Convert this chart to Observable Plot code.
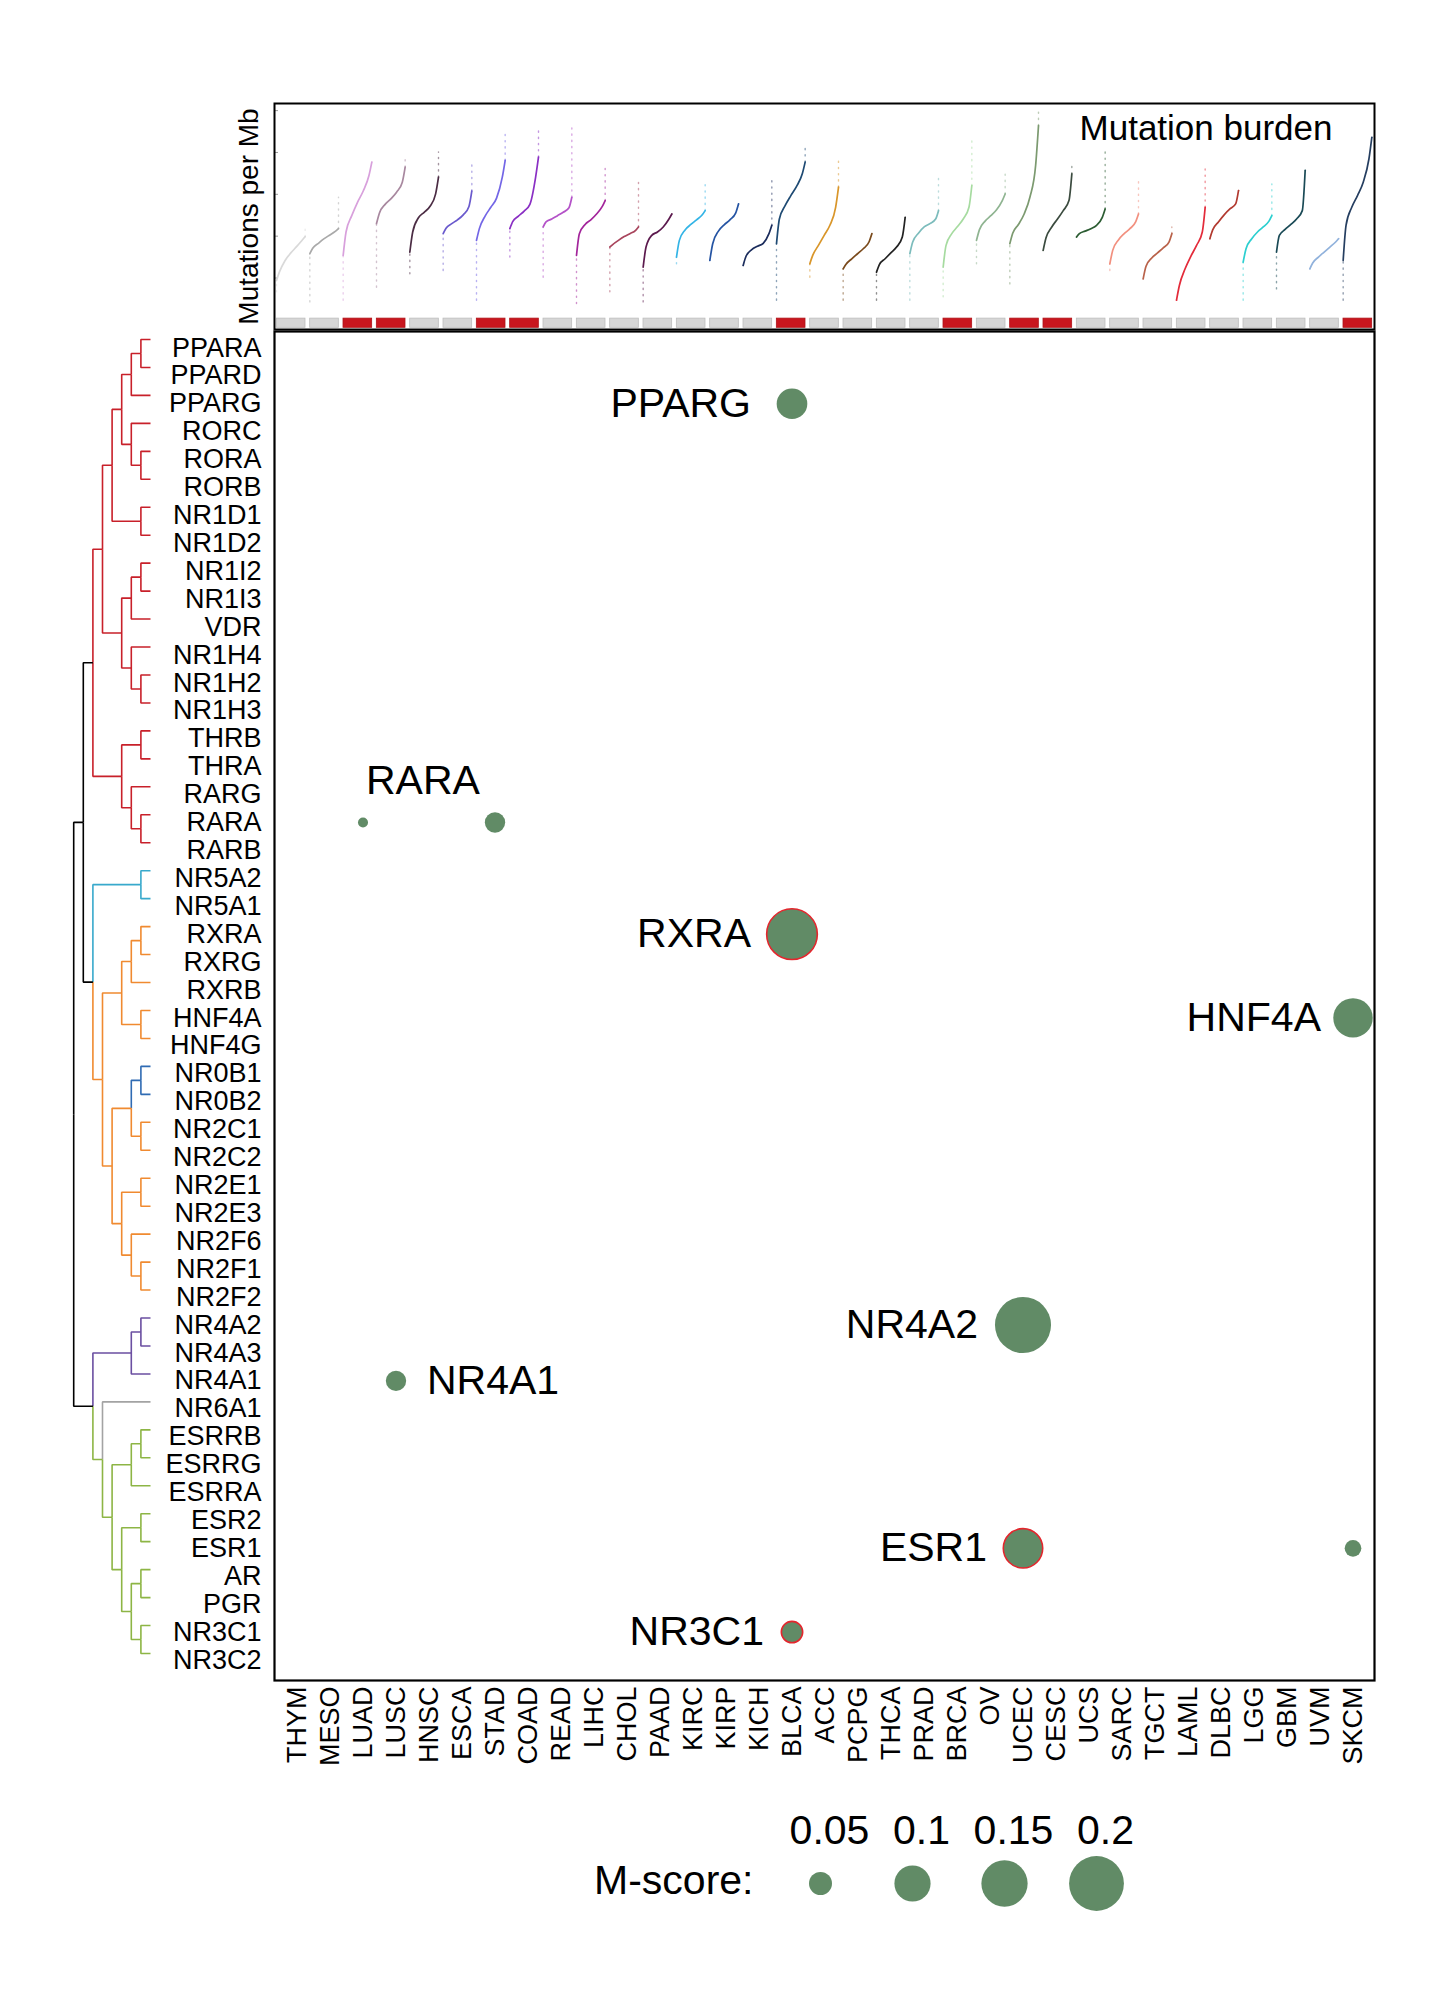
<!DOCTYPE html>
<html><head><meta charset="utf-8">
<script src="https://cdn.jsdelivr.net/npm/d3@7"></script>
<script src="https://cdn.jsdelivr.net/npm/@observablehq/plot@0.6"></script>
<style>
html,body{margin:0;padding:0;background:#fff;}
#wrap{position:relative;width:1452px;height:1995px;overflow:hidden;}
</style></head><body><div id="wrap"></div>
<script>
// ---------------- DATA ----------------
const cancers = ["THYM","MESO","LUAD","LUSC","HNSC","ESCA","STAD","COAD","READ","LIHC","CHOL","PAAD","KIRC","KIRP","KICH","BLCA","ACC","PCPG","THCA","PRAD","BRCA","OV","UCEC","CESC","UCS","SARC","TGCT","LAML","DLBC","LGG","GBM","UVM","SKCM"];
const highlightedCancers = ["LUAD","LUSC","STAD","COAD","BLCA","BRCA","UCEC","CESC","SKCM"];
const cancerColors = ["#d9d9d9","#a9a9a9","#d8a0dc","#a8889f","#4b2c44","#6a5acd","#7366e6","#8a2fc4","#b452c8","#a3259b","#a8445c","#5c1a4e","#33b4e6","#2554a3","#1b2c5c","#1e4a73","#d9962a","#7a4a1c","#222222","#7cbcbc","#a6dba0","#8fb491","#7c9a70","#3b4b3f","#2b5c32","#f2907f","#b9624a","#e32b3a","#b23a30","#2ccfd0","#1a4a56","#91b2dc","#253e60"];
// log10 mutations per Mb at sample-rank fractions 0, .1, .3, .5, .7, .9, 1
const burdenFractions = [0, 0.1, 0.3, 0.5, 0.7, 0.9, 1];
const burdenLog10 = [
  [-1.06,-0.86,-0.58,-0.40,-0.25,-0.09,-0.01],
  [-0.42,-0.29,-0.17,-0.06,0.03,0.12,0.18],
  [-0.46,0.10,0.49,0.81,1.08,1.45,1.77],
  [0.30,0.55,0.76,0.89,1.05,1.29,1.65],
  [-0.38,0.10,0.44,0.57,0.71,1.01,1.41],
  [0.06,0.19,0.30,0.39,0.51,0.71,1.08],
  [-0.10,0.18,0.48,0.69,0.91,1.41,1.81],
  [0.18,0.35,0.48,0.60,0.76,1.41,1.89],
  [0.22,0.34,0.41,0.49,0.57,0.68,0.93],
  [-0.46,0.06,0.28,0.39,0.53,0.71,0.85],
  [-0.26,-0.20,-0.10,-0.01,0.06,0.14,0.22],
  [-0.74,-0.26,0.02,0.10,0.22,0.41,0.53],
  [-0.50,-0.10,0.15,0.28,0.39,0.51,0.61],
  [-0.58,-0.18,0.12,0.27,0.39,0.55,0.77],
  [-0.70,-0.48,-0.32,-0.24,-0.17,0.06,0.26],
  [-0.18,0.41,0.73,0.97,1.19,1.49,1.77],
  [-0.66,-0.46,-0.22,0.02,0.26,0.69,1.17],
  [-0.78,-0.67,-0.54,-0.42,-0.30,-0.14,0.06],
  [-0.86,-0.68,-0.54,-0.40,-0.26,-0.02,0.45],
  [-0.42,-0.14,0.07,0.22,0.30,0.41,0.61],
  [-0.74,-0.22,0.06,0.23,0.41,0.69,1.21],
  [-0.10,0.15,0.36,0.49,0.63,0.85,1.01],
  [-0.18,0.07,0.28,0.53,0.93,1.69,2.64],
  [-0.34,-0.04,0.22,0.41,0.61,0.85,1.49],
  [-0.02,0.06,0.12,0.18,0.26,0.45,0.65],
  [-0.66,-0.34,-0.09,0.06,0.18,0.34,0.53],
  [-1.02,-0.72,-0.52,-0.40,-0.28,-0.14,0.06],
  [-1.53,-1.18,-0.78,-0.48,-0.22,0.10,0.69],
  [-0.06,0.15,0.34,0.51,0.65,0.77,1.09],
  [-0.62,-0.30,-0.06,0.10,0.22,0.36,0.49],
  [-0.38,0.02,0.16,0.28,0.41,0.61,1.57],
  [-0.78,-0.64,-0.50,-0.38,-0.26,-0.14,-0.06],
  [-0.58,0.26,0.69,0.97,1.29,1.85,2.36]
];
const burdenTailLow = [-1.33,-1.57,-1.53,-1.22,-0.90,-0.82,-1.53,-0.50,-0.98,-1.61,-1.33,-1.57,-0.66,-0.58,-0.70,-1.53,-0.98,-1.53,-1.53,-1.53,-1.45,-0.66,-1.14,-0.34,-0.02,-0.82,-1.02,-1.53,-0.06,-1.53,-1.26,-0.78,-1.53];
const burdenTailHigh = [0.22,0.93,1.77,1.85,2.01,1.77,2.48,2.52,2.64,1.65,1.29,0.53,1.33,0.77,1.37,2.12,1.81,0.06,0.45,1.41,2.36,1.57,3.00,1.73,2.12,1.41,0.22,1.61,1.09,1.25,1.57,-0.06,2.36];
const burdenTicks = [-1, 0, 1, 2, 3];

const genes = ["PPARA","PPARD","PPARG","RORC","RORA","RORB","NR1D1","NR1D2","NR1I2","NR1I3","VDR","NR1H4","NR1H2","NR1H3","THRB","THRA","RARG","RARA","RARB","NR5A2","NR5A1","RXRA","RXRG","RXRB","HNF4A","HNF4G","NR0B1","NR0B2","NR2C1","NR2C2","NR2E1","NR2E3","NR2F6","NR2F1","NR2F2","NR4A2","NR4A3","NR4A1","NR6A1","ESRRB","ESRRG","ESRRA","ESR2","ESR1","AR","PGR","NR3C1","NR3C2"];
const geneFamily = ["NR1","NR1","NR1","NR1","NR1","NR1","NR1","NR1","NR1","NR1","NR1","NR1","NR1","NR1","NR1","NR1","NR1","NR1","NR1","NR5","NR5","NR2","NR2","NR2","NR2","NR2","NR0","NR0","NR2","NR2","NR2","NR2","NR2","NR2","NR2","NR4","NR4","NR4","NR6","NR3","NR3","NR3","NR3","NR3","NR3","NR3","NR3","NR3"];
// dendrogram merges (node k+1 = mergeA[k] + mergeB[k])
const mergeA = ["PPARA","n1","RORA","RORC","n2","NR1D1","n5","NR1I2","n8","NR1H2","NR1H4","n9","n7","THRB","RARA","RARG","n14","n13","NR5A2","RXRA","n20","HNF4A","n21","NR0B1","NR2C1","n24","NR2E1","NR2F1","NR2F6","n27","n26","n23","n19","n18","NR4A2","n35","ESRRB","n37","ESR2","AR","NR3C1","n40","n39","n38","NR6A1","n36","n34"];
const mergeB = ["PPARD","PPARG","RORB","n3","n4","NR1D2","n6","NR1I3","VDR","NR1H3","n10","n11","n12","THRA","RARB","n15","n16","n17","NR5A1","RXRG","RXRB","HNF4G","n22","NR0B2","NR2C2","n25","NR2E3","NR2F2","n28","n29","n30","n31","n32","n33","NR4A3","NR4A1","ESRRG","ESRRA","ESR1","PGR","NR3C2","n41","n42","n43","n44","n45","n46"];
const mergeHeight = [1,2,1,2,3,1,4,1,2,1,2,3,5,1,1,2,3,6,1,1,2,1,3,1,1,2,1,1,2,3,4,5,6,7,1,2,1,2,1,1,1,2,3,4,5,6,8];
const mergeFamily = ["NR1","NR1","NR1","NR1","NR1","NR1","NR1","NR1","NR1","NR1","NR1","NR1","NR1","NR1","NR1","NR1","NR1","NR1","NR5","NR2","NR2","NR2","NR2","NR0","NR2","NR2","NR2","NR2","NR2","NR2","NR2","NR2","mixed","top","NR4","NR4","NR3","NR3","NR3","NR3","NR3","NR3","NR3","NR3","NR3","mixed","top"];

// M-score hits
const hitCancer = ["BLCA","LUAD","STAD","BLCA","SKCM","UCEC","LUSC","UCEC","SKCM","BLCA"];
const hitGene = ["PPARG","RARA","RARA","RXRA","HNF4A","NR4A2","NR4A1","ESR1","ESR1","NR3C1"];
const hitScore = [0.077,0.0175,0.042,0.175,0.115,0.208,0.042,0.115,0.032,0.045];
const hitSignificant = [false,false,false,true,false,false,false,true,false,true];
const labelGene = ["PPARG","RARA","RXRA","HNF4A","NR4A2","NR4A1","ESR1","NR3C1"];
const labelCancer = ["BLCA","LUAD","BLCA","SKCM","UCEC","LUSC","UCEC","BLCA"];
const legendValues = [0.05, 0.1, 0.15, 0.2];

// ---------------- STYLE / LAYOUT ----------------
const FONT = "'Liberation Sans', Arial, Helvetica, sans-serif";
const famColor = {NR1:"#c8202a", NR5:"#38a9cc", NR2:"#f08a30", NR0:"#2f6bb3", NR4:"#6b4fa1", NR6:"#a3a3a3", NR3:"#8db545", mixed:"#000", top:"#000"};
const dotFill = "#618b66";
const sigStroke = "#e3262d";
const rScale = {type: "sqrt", domain: [0.05, 0.2], range: [11.5, 27.4]};
const wrap = document.getElementById("wrap");
function place(svg, left, top) {
  svg.style.position = "absolute";
  svg.style.left = left + "px";
  svg.style.top = top + "px";
  wrap.appendChild(svg);
}

// ---------- top panel: mutation burden ----------
const curveRows = [], tailRows = [];
cancers.forEach((c, i) => {
  const x0 = i + 0.06, w = 0.86;
  burdenFractions.forEach((f, j) => curveRows.push({cancer: c, x: x0 + f * w, y: burdenLog10[i][j], color: cancerColors[i]}));
  tailRows.push({id: c + "lo", x: x0, y: burdenTailLow[i], color: cancerColors[i]});
  tailRows.push({id: c + "lo", x: x0, y: burdenLog10[i][0], color: cancerColors[i]});
  tailRows.push({id: c + "hi", x: x0 + w, y: burdenLog10[i][6], color: cancerColors[i]});
  tailRows.push({id: c + "hi", x: x0 + w, y: burdenTailHigh[i], color: cancerColors[i]});
});
const topPlot = Plot.plot({
  width: 1452, height: 332,
  marginLeft: 274, marginRight: 78, marginTop: 103, marginBottom: 3,
  style: {background: "transparent", fontFamily: FONT, color: "#000"},
  x: {type: "linear", domain: [0, cancers.length], axis: null},
  y: {type: "linear", domain: [-2.23, 3.17], axis: null},
  color: {type: "identity"},
  marks: [
    Plot.ruleY(burdenTicks, {x1: 0, x2: 0.12, stroke: "#999", strokeWidth: 1}),
    Plot.rect(cancers, {x1: (d, i) => i + 0.07, x2: (d, i) => i + 0.93, y1: -2.19, y2: -1.97,
      fill: d => highlightedCancers.includes(d) ? "#c8161e" : "#d6d6d6",
      stroke: d => highlightedCancers.includes(d) ? "#b01218" : "#bdbdbd", strokeWidth: 0.8}),
    Plot.line(tailRows, {x: "x", y: "y", z: "id", stroke: "color", strokeWidth: 1.4, strokeDasharray: "1.2,5", strokeOpacity: 0.5}),
    Plot.line(curveRows, {x: "x", y: "y", z: "cancer", stroke: "color", strokeWidth: 1.7, curve: "monotone-x"}),
    Plot.frame({stroke: "#000", strokeWidth: 2}),
    Plot.text(["Mutation burden"], {frameAnchor: "top-right", lineAnchor: "top", dx: -42, dy: 12, fontSize: 35, fill: "#000"}),
    Plot.text(["Mutations per Mb"], {frameAnchor: "left", textAnchor: "middle", rotate: -90, dx: -25, fontSize: 28, fill: "#000"})
  ]
});
place(topPlot, 0, 0);

// ---------- main panel ----------
const hits = hitCancer.map((c, i) => ({cancer: c, gene: hitGene[i], score: hitScore[i], sig: hitSignificant[i]}));
const labelRows = labelGene.map((g, i) => ({gene: g, cancer: labelCancer[i]}));
const labelLayout = {
  PPARG: {dx: -41, dy: 0, anchor: "end"},
  RARA:  {dx: 3,   dy: -42, anchor: "start"},
  RXRA:  {dx: -41, dy: 0, anchor: "end"},
  HNF4A: {dx: -32, dy: 0, anchor: "end"},
  NR4A2: {dx: -45, dy: 0, anchor: "end"},
  NR4A1: {dx: 31,  dy: 0, anchor: "start"},
  ESR1:  {dx: -36, dy: 0, anchor: "end"},
  NR3C1: {dx: -28, dy: 0, anchor: "end"}
};
const mainTop = 330, mainH = 1465;
const mainPlot = Plot.plot({
  width: 1452, height: mainH,
  marginLeft: 274, marginRight: 78, marginTop: 1, marginBottom: mainH - 1350,
  style: {background: "transparent", fontFamily: FONT, color: "#000"},
  x: {type: "band", domain: cancers, padding: 0, label: null},
  y: {type: "point", domain: genes, padding: 0, range: [347.4 - mainTop, 1659.5 - mainTop], label: null},
  r: rScale,
  marks: [
    Plot.frame({stroke: "#000", strokeWidth: 2.2}),
    Plot.axisX({anchor: "bottom", tickSize: 0, tickPadding: 6, tickRotate: -90, fontSize: 27, label: null}),
    Plot.axisY({anchor: "left", tickSize: 0, tickPadding: 13, fontSize: 27, label: null}),
    Plot.dot(hits, {filter: d => !d.sig, x: "cancer", y: "gene", r: "score", fill: dotFill}),
    Plot.dot(hits, {filter: d => d.sig, x: "cancer", y: "gene", r: "score", fill: dotFill, stroke: sigStroke, strokeWidth: 1.6}),
    ...labelRows.map(d => Plot.text([d], {x: "cancer", y: "gene", text: "gene", fontSize: 41,
      textAnchor: labelLayout[d.gene].anchor, dx: labelLayout[d.gene].dx, dy: labelLayout[d.gene].dy, fill: "#000"}))
  ]
});
place(mainPlot, 0, mainTop);

// ---------- dendrogram ----------
const nodePos = new Map(), nodeH = new Map(), nodeFam = new Map();
genes.forEach((g, i) => { nodePos.set(g, i); nodeH.set(g, 0); nodeFam.set(g, geneFamily[i]); });
mergeA.forEach((a, k) => {
  const id = "n" + (k + 1), b = mergeB[k];
  nodePos.set(id, (nodePos.get(a) + nodePos.get(b)) / 2);
  nodeH.set(id, mergeHeight[k]);
  nodeFam.set(id, mergeFamily[k]);
});
const edgeRows = [];
mergeA.forEach((a, k) => {
  const id = "n" + (k + 1);
  [a, mergeB[k]].forEach(c => {
    const col = mergeFamily[k] === "top" ? "#000" : famColor[nodeFam.get(c)];
    const e = id + "-" + c;
    edgeRows.push({e, h: nodeH.get(id), p: nodePos.get(id), col});
    edgeRows.push({e, h: nodeH.get(id), p: nodePos.get(c), col});
    edgeRows.push({e, h: nodeH.get(c), p: nodePos.get(c), col});
  });
});
const dendro = Plot.plot({
  width: 165, height: mainH,
  marginLeft: 0, marginRight: 0, marginTop: 0, marginBottom: 0,
  style: {background: "transparent"},
  x: {type: "linear", domain: [0, 8], range: [150, 73.2], axis: null},
  y: {type: "linear", domain: [0, genes.length - 1], range: [339 - mainTop, 1653 - mainTop], axis: null},
  color: {type: "identity"},
  marks: [
    Plot.line(edgeRows, {x: "h", y: "p", z: "e", stroke: "col", strokeWidth: 1.6, strokeLinejoin: "miter", strokeLinecap: "butt"})
  ]
});
place(dendro, 0, mainTop);

// ---------- legend ----------
const legTop = 1790;
const legend = Plot.plot({
  width: 1452, height: 150,
  marginLeft: 0, marginRight: 0, marginTop: 0, marginBottom: 0,
  style: {background: "transparent", fontFamily: FONT, color: "#000"},
  x: {type: "point", domain: legendValues, padding: 0, range: [819.6, 1097], axis: null},
  y: {type: "linear", domain: [0, 1], range: [1830 - legTop, 1883 - legTop], axis: null},
  r: rScale,
  marks: [
    Plot.dot(legendValues, {x: d => d, y: () => 1, r: d => d, fill: dotFill}),
    Plot.text(legendValues, {x: d => d, y: () => 0, text: d => String(d), dx: 9, fontSize: 41, fill: "#000"}),
    Plot.text([legendValues[0]], {x: d => d, y: () => 1, text: () => "M-score:", textAnchor: "end", dx: -67, dy: -3, fontSize: 41, fill: "#000"})
  ]
});
place(legend, 0, legTop);
</script>
</body></html>
